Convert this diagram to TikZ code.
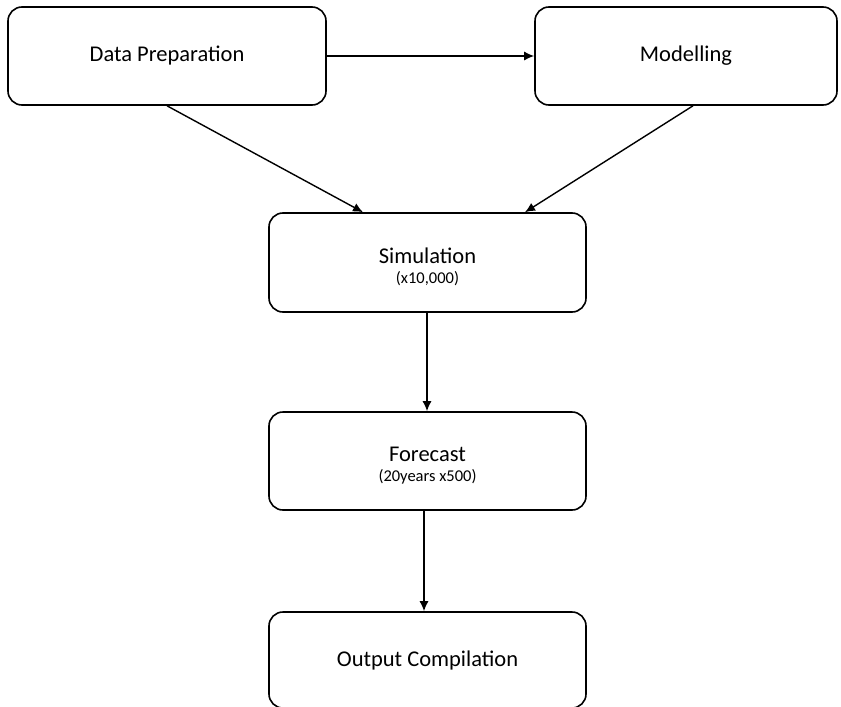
\documentclass[tikz,border=0pt]{standalone}
\usepackage{fontspec}
\setmainfont{Carlito}
\usetikzlibrary{arrows.meta}
\newcommand{\subline}[1]{{\fontsize{16.5}{20}\selectfont #1}}
\newcommand{\tallstrut}{\rule{0pt}{24pt}}
\begin{document}
\begin{tikzpicture}[x=1pt,y=-1pt,
  stage/.style={draw=black, line width=1.6pt, rounded corners=14pt, fill=white,
    minimum width=#1, align=center, inner sep=0pt,
    font=\fontsize{22.5}{24}\selectfont},
  stage/.default=317pt,
  flow/.style={draw=black, line width=1.4pt, -{Latex[length=10pt,width=9pt]}}]
\useasboundingbox (0,0) rectangle (841,707);
% top row
\node[stage=318pt, minimum height=98pt] (prep) at (167,56) {Data Preparation};
\node[stage=302pt, minimum height=98pt] (model) at (686,56) {Modelling};
% pipeline column
\node[stage, minimum height=99pt] (sim) at (427.5,262.5)
  {\tallstrut Simulation\\[-4pt]\subline{(x10,000)}};
\node[stage, minimum height=98pt] (fc) at (427.5,461)
  {\tallstrut Forecast\\[-4pt]\subline{(20years x500)}};
\node[stage, minimum height=96pt] (out) at (427.5,660) {Output Compilation};
% connectors
\draw[flow] (prep.east) -- (model.west);
\draw[flow] (prep.south) -- (sim.north -| 363,0);
\draw[flow] (model.south) ++(7,0) coordinate (m1) (m1) -- (sim.north -| 525,0);
\draw[flow] (sim.south -| 427,0) -- (fc.north -| 427,0);
\draw[flow] (fc.south -| 424,0) -- (out.north -| 424,0);
\end{tikzpicture}
\end{document}
